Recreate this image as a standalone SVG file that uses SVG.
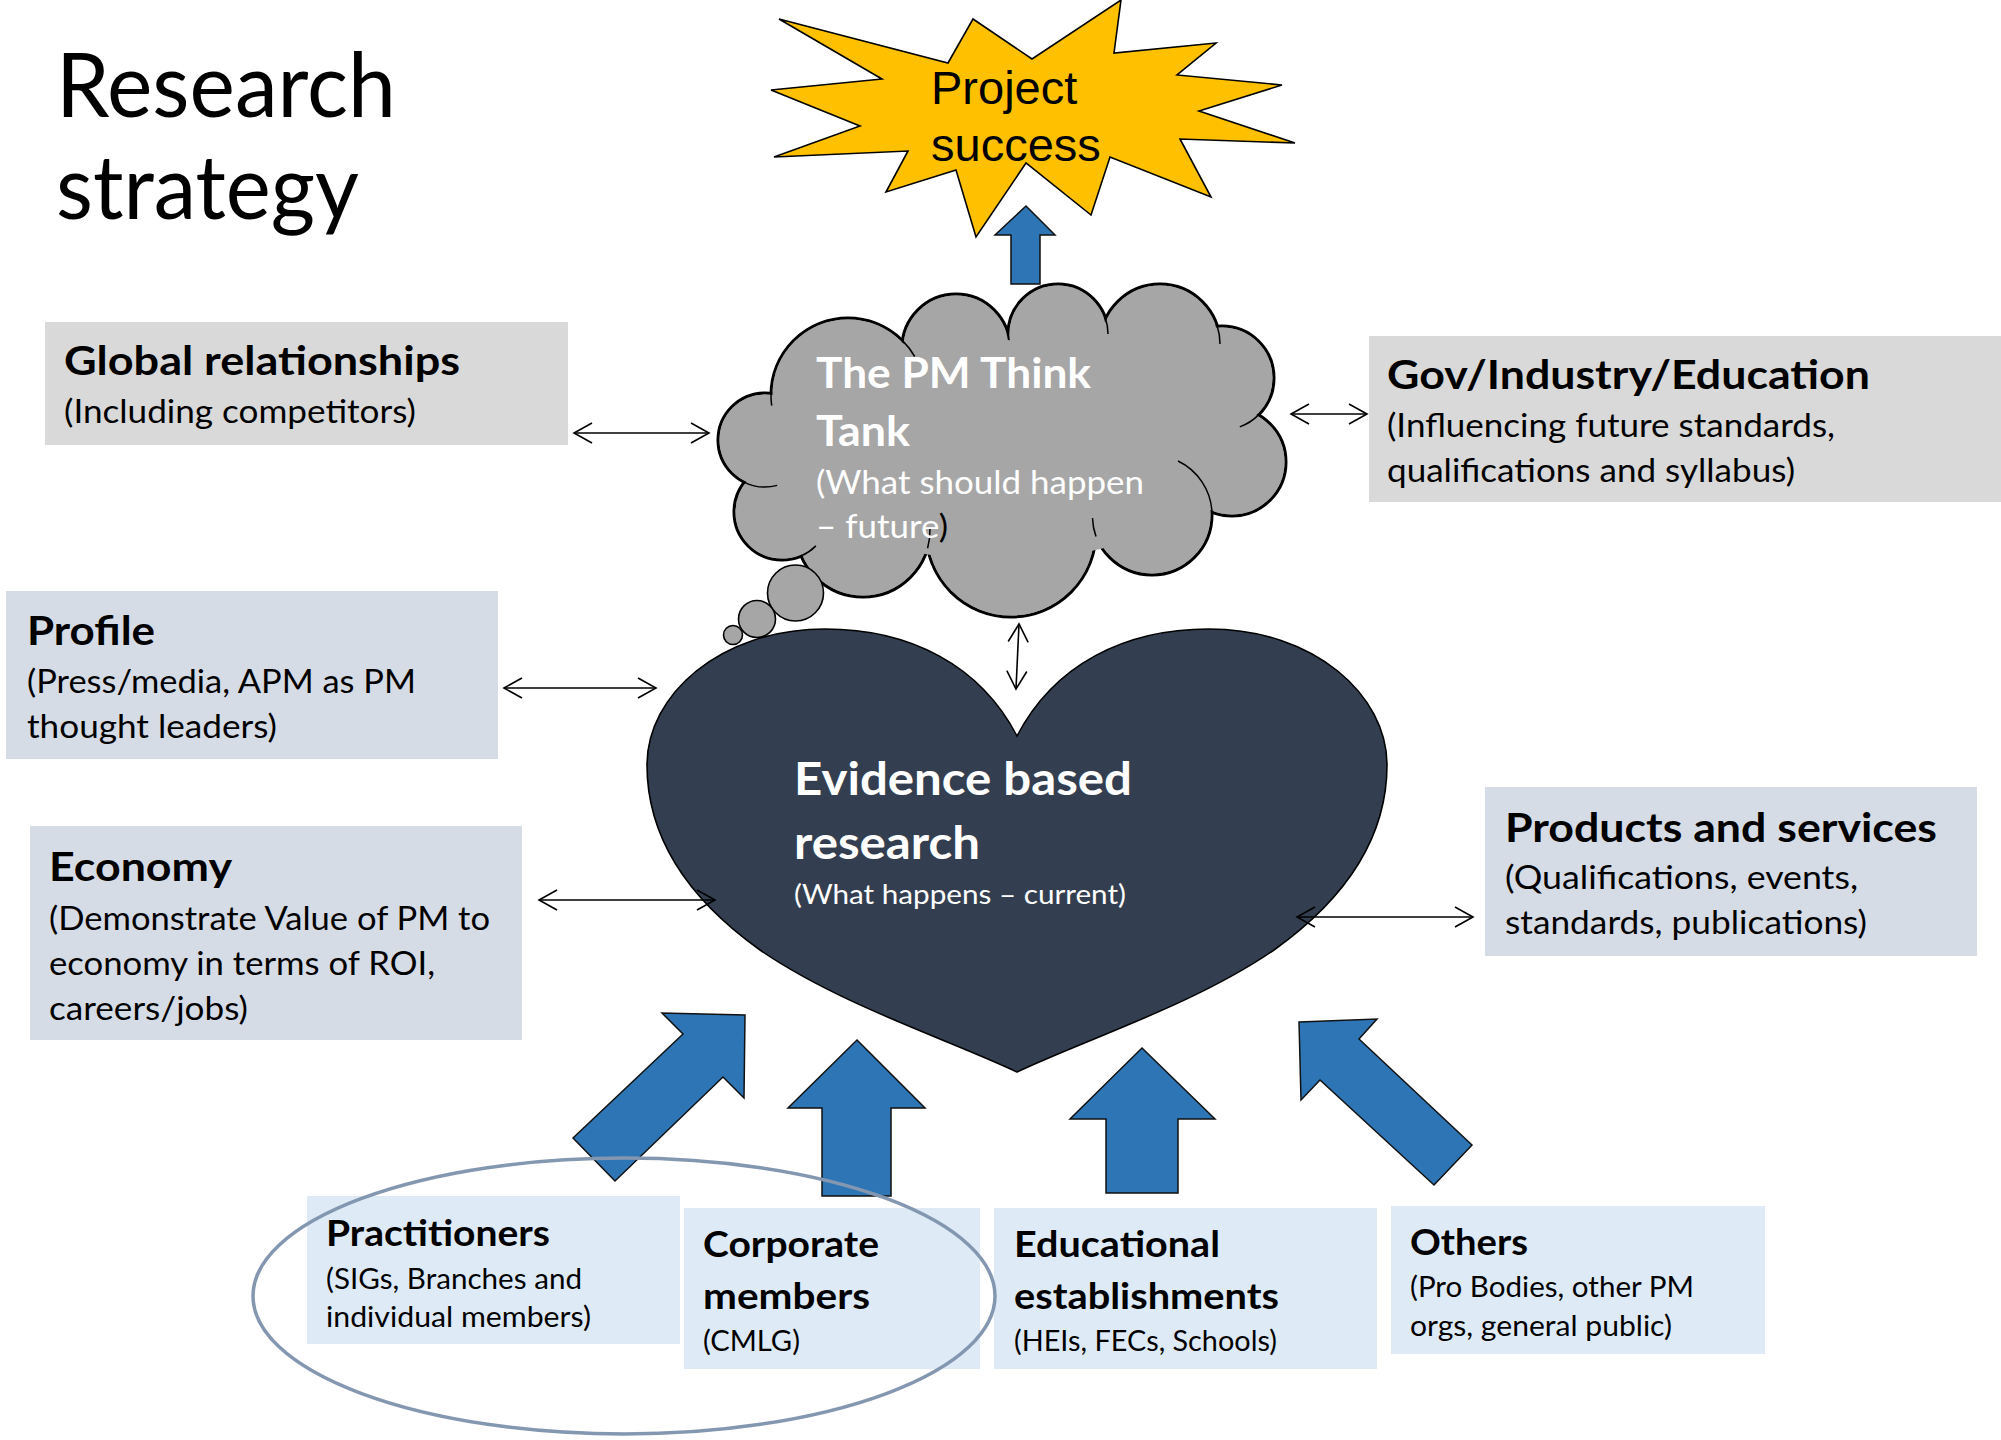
<svg xmlns="http://www.w3.org/2000/svg" width="2001" height="1440" viewBox="0 0 2001 1440">
<defs>
<style>
text{font-family:Lato,"Open Sans","Liberation Sans",sans-serif}
.title{font-size:90px;fill:#000}
.hdr{font-size:40.5px;font-weight:700;fill:#000}
.sub{font-size:32.6px;fill:#000}
.hdr2{font-size:37px;font-weight:700;fill:#000}
.sub2{font-size:28.2px;fill:#000}
.ct{font-size:42.3px;font-weight:700;fill:#fff}
.cts{font-size:32.6px;fill:#fff}
.ev{font-size:46px;font-weight:700;fill:#fff}
.evs{font-size:27.8px;fill:#fff}
.star{font-family:"Liberation Sans",Arial,sans-serif;font-size:47px;fill:#000}
.boxg{fill:#D9D9D9}
.boxb{fill:#D6DCE5}
.boxl{fill:#DEEBF7}
.blue{fill:#2E75B6;stroke:#111;stroke-width:1.5;stroke-linejoin:miter}
.conn{stroke:#000;stroke-width:1.6;fill:none;marker-start:url(#ah);marker-end:url(#ah)}
.cl{fill:#A6A6A6;stroke:#000;stroke-width:3}
.clf{fill:#A6A6A6}
.seam{fill:none;stroke:#000;stroke-width:1.5}
</style>
<marker id="ah" markerUnits="userSpaceOnUse" viewBox="-20 -12 22 24" refX="0" refY="0" markerWidth="22" markerHeight="24" orient="auto-start-reverse">
<path d="M-18,-10 L0,0 L-18,10" fill="none" stroke="#000" stroke-width="1.6"/>
</marker>
</defs>
<rect width="2001" height="1440" fill="#fff"/>

<g id="title">
<text class="title" x="56" y="117" textLength="340" lengthAdjust="spacingAndGlyphs">Research</text>
<text class="title" x="56" y="219" textLength="303" lengthAdjust="spacingAndGlyphs">strategy</text>
</g>

<g id="project-success">
<polygon points="779,19 948,63 973,19 1032,59 1121,0 1114,53 1216,43 1177,75 1282,85 1199,111 1295,143 1180,139 1211,197 1110,157 1091,215 1026,163 976,237 956,170 886,192 908,151 774,157 860,126 771,90 882,79" fill="#FFC000" stroke="#000" stroke-width="1.6" stroke-linejoin="miter"/>
<text class="star" x="931" y="104">Project</text>
<text class="star" x="931" y="161">success</text>
</g>

<g id="up-arrow-top">
<polygon class="blue" points="1026,206 1055,235 1040,235 1040,284 1011,284 1011,235 995,235"/>
</g>

<g id="global">
<rect class="boxg" x="45" y="322" width="523" height="123"/>
<text class="hdr" x="64" y="375" textLength="396" lengthAdjust="spacingAndGlyphs">Global relationships</text>
<text class="sub" x="64" y="423" textLength="352" lengthAdjust="spacingAndGlyphs">(Including competitors)</text>
</g>

<g id="gov">
<rect class="boxg" x="1369" y="336" width="632" height="166"/>
<text class="hdr" x="1387" y="389" textLength="483" lengthAdjust="spacingAndGlyphs">Gov/Industry/Education</text>
<text class="sub" x="1387" y="437" textLength="448" lengthAdjust="spacingAndGlyphs">(Influencing future standards,</text>
<text class="sub" x="1387" y="482" textLength="408" lengthAdjust="spacingAndGlyphs">qualifications and syllabus)</text>
</g>

<g id="profile">
<rect class="boxb" x="6" y="591" width="492" height="168"/>
<text class="hdr" x="27" y="645" textLength="128" lengthAdjust="spacingAndGlyphs">Profile</text>
<text class="sub" x="27" y="693" textLength="389" lengthAdjust="spacingAndGlyphs">(Press/media, APM as PM</text>
<text class="sub" x="27" y="738" textLength="250" lengthAdjust="spacingAndGlyphs">thought leaders)</text>
</g>

<g id="economy">
<rect class="boxb" x="30" y="826" width="492" height="214"/>
<text class="hdr" x="49" y="881" textLength="183" lengthAdjust="spacingAndGlyphs">Economy</text>
<text class="sub" x="49" y="930" textLength="441" lengthAdjust="spacingAndGlyphs">(Demonstrate Value of PM to</text>
<text class="sub" x="49" y="975" textLength="386" lengthAdjust="spacingAndGlyphs">economy in terms of ROI,</text>
<text class="sub" x="49" y="1020" textLength="199" lengthAdjust="spacingAndGlyphs">careers/jobs)</text>
</g>

<g id="products">
<rect class="boxb" x="1485" y="787" width="492" height="169"/>
<text class="hdr" x="1505" y="842" textLength="432" lengthAdjust="spacingAndGlyphs">Products and services</text>
<text class="sub" x="1505" y="889" textLength="353" lengthAdjust="spacingAndGlyphs">(Qualifications, events,</text>
<text class="sub" x="1505" y="934" textLength="362" lengthAdjust="spacingAndGlyphs">standards, publications)</text>
</g>

<g id="think-tank">
<circle class="cl" cx="848" cy="395" r="77"/>
<circle class="cl" cx="956" cy="348" r="54"/>
<circle class="cl" cx="1058" cy="334" r="50"/>
<circle class="cl" cx="1160" cy="344" r="60"/>
<circle class="cl" cx="1222" cy="378" r="52"/>
<circle class="cl" cx="1232" cy="462" r="54"/>
<circle class="cl" cx="1152" cy="515" r="60"/>
<circle class="cl" cx="1011" cy="532" r="85"/>
<circle class="cl" cx="863" cy="530" r="67"/>
<circle class="cl" cx="782" cy="512" r="48"/>
<circle class="cl" cx="765" cy="440" r="47"/>
<circle class="clf" cx="848" cy="395" r="75.5"/>
<circle class="clf" cx="956" cy="348" r="52.5"/>
<circle class="clf" cx="1058" cy="334" r="48.5"/>
<circle class="clf" cx="1160" cy="344" r="58.5"/>
<circle class="clf" cx="1222" cy="378" r="50.5"/>
<circle class="clf" cx="1232" cy="462" r="52.5"/>
<circle class="clf" cx="1152" cy="515" r="58.5"/>
<circle class="clf" cx="1011" cy="532" r="83.5"/>
<circle class="clf" cx="863" cy="530" r="65.5"/>
<circle class="clf" cx="782" cy="512" r="46.5"/>
<circle class="clf" cx="765" cy="440" r="45.5"/>
<ellipse class="clf" cx="1000" cy="450" rx="230" ry="110"/>
<path class="seam" d="M902.5,340.6 A77,77 0 0 1 914.7,356.5"/>
<path class="seam" d="M1105.6,318.8 A50,50 0 0 1 1108,334"/>
<path class="seam" d="M1217.3,326.2 A60,60 0 0 1 1220,344"/>
<path class="seam" d="M1258.6,414.9 A52,52 0 0 1 1239.8,426.9"/>
<path class="seam" d="M1212,512 A60,60 0 0 0 1178,461"/>
<path class="seam" d="M1096,536.5 A60,60 0 0 1 1092.5,518"/>
<path class="seam" d="M927.6,548.3 A67,67 0 0 0 930,528"/>
<path class="seam" d="M801.2,555.9 A48,48 0 0 0 815.9,545.9"/>
<path class="seam" d="M744.4,482.3 A47,47 0 0 0 777.2,485.4"/>
<path class="seam" d="M771,393.4 A77,77 0 0 0 771.7,405.7"/>
<text class="ct" x="816" y="388" textLength="275" lengthAdjust="spacingAndGlyphs">The PM Think</text>
<text class="ct" x="816" y="446" textLength="94" lengthAdjust="spacingAndGlyphs">Tank</text>
<text class="cts" x="816" y="494" textLength="328" lengthAdjust="spacingAndGlyphs">(What should happen</text>
<text class="cts" x="816" y="538" textLength="132" lengthAdjust="spacingAndGlyphs">– future<tspan fill="#000">)</tspan></text>
</g>

<g id="evidence">
<path d="M1017,736 C980,665 910,629 825,629 C720,629 647,695 647,765 C647,840 690,900 760,950 C840,1005 950,1040 1017,1072 C1084,1040 1194,1005 1274,950 C1344,900 1387,840 1387,765 C1387,695 1314,629 1209,629 C1124,629 1054,665 1017,736 Z" fill="#333F50" stroke="#000" stroke-width="1.6"/>
<text class="ev" x="794" y="795" textLength="338" lengthAdjust="spacingAndGlyphs">Evidence based</text>
<text class="ev" x="794" y="859" textLength="186" lengthAdjust="spacingAndGlyphs">research</text>
<text class="evs" x="794" y="904" textLength="332" lengthAdjust="spacingAndGlyphs">(What happens – current)</text>
</g>

<g id="thought-bubbles">
<circle cx="795.5" cy="593" r="28" fill="#A6A6A6" stroke="#000" stroke-width="1.6"/>
<circle cx="757" cy="619" r="18.5" fill="#A6A6A6" stroke="#000" stroke-width="1.6"/>
<circle cx="733" cy="635" r="9.5" fill="#A6A6A6" stroke="#000" stroke-width="1.6"/>
</g>

<g id="practitioners">
<rect class="boxl" x="307" y="1196" width="373" height="148"/>
<text class="hdr2" x="326" y="1246" textLength="224" lengthAdjust="spacingAndGlyphs">Practitioners</text>
<text class="sub2" x="326" y="1289" textLength="256" lengthAdjust="spacingAndGlyphs">(SIGs, Branches and</text>
<text class="sub2" x="326" y="1327" textLength="265" lengthAdjust="spacingAndGlyphs">individual members)</text>
</g>

<g id="corporate">
<rect class="boxl" x="684" y="1208" width="296" height="161"/>
<text class="hdr2" x="703" y="1257" textLength="176" lengthAdjust="spacingAndGlyphs">Corporate</text>
<text class="hdr2" x="703" y="1309" textLength="167" lengthAdjust="spacingAndGlyphs">members</text>
<text class="sub2" x="703" y="1351" textLength="97" lengthAdjust="spacingAndGlyphs">(CMLG)</text>
</g>

<g id="educational">
<rect class="boxl" x="994" y="1208" width="383" height="161"/>
<text class="hdr2" x="1014" y="1257" textLength="206" lengthAdjust="spacingAndGlyphs">Educational</text>
<text class="hdr2" x="1014" y="1309" textLength="265" lengthAdjust="spacingAndGlyphs">establishments</text>
<text class="sub2" x="1014" y="1351" textLength="263" lengthAdjust="spacingAndGlyphs">(HEIs, FECs, Schools)</text>
</g>

<g id="others">
<rect class="boxl" x="1391" y="1206" width="374" height="148"/>
<text class="hdr2" x="1410" y="1255" textLength="118" lengthAdjust="spacingAndGlyphs">Others</text>
<text class="sub2" x="1410" y="1297" textLength="284" lengthAdjust="spacingAndGlyphs">(Pro Bodies, other PM</text>
<text class="sub2" x="1410" y="1336" textLength="262" lengthAdjust="spacingAndGlyphs">orgs, general public)</text>
</g>

<g id="block-arrows">
<polygon class="blue" points="745,1015 744,1098 723,1077 615,1181 573,1138 683,1034 662,1013"/>
<polygon class="blue" points="857,1040 925,1108 891,1108 891,1196 822,1196 822,1108 788,1108"/>
<polygon class="blue" points="1142,1048 1215,1119 1178,1119 1178,1193 1106,1193 1106,1119 1070,1119"/>
<polygon class="blue" points="1299,1022 1377,1019 1359,1039 1472,1145 1434,1185 1320,1080 1301,1100"/>
</g>

<g id="connectors">
<line class="conn" x1="574" y1="433" x2="709" y2="433"/>
<line class="conn" x1="1291" y1="414" x2="1367" y2="414"/>
<line class="conn" x1="504" y1="688" x2="656" y2="688"/>
<line class="conn" x1="539" y1="900" x2="715" y2="900"/>
<line class="conn" x1="1297" y1="917" x2="1473" y2="917"/>
<line class="conn" x1="1019" y1="624" x2="1016" y2="689"/>
</g>

<g id="member-group">
<ellipse cx="624" cy="1296" rx="371" ry="138" fill="none" stroke="#8497B0" stroke-width="3.5"/>
</g>
</svg>
